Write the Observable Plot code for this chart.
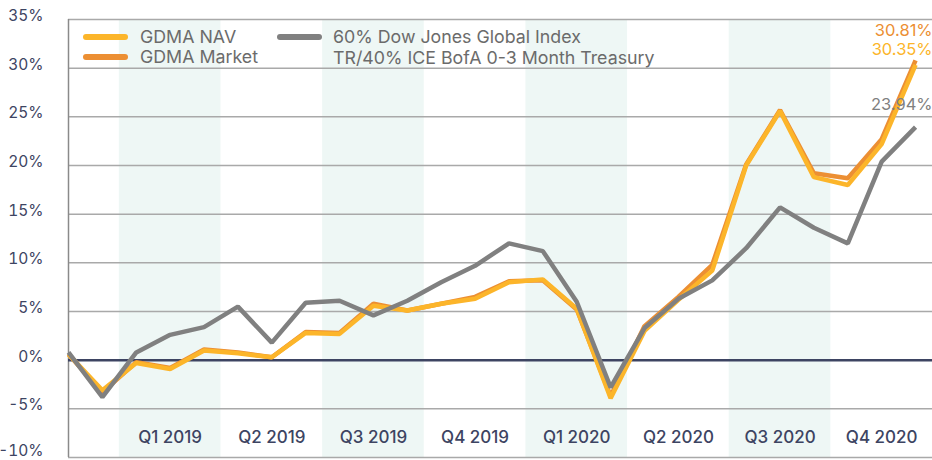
<!DOCTYPE html>
<html><head><meta charset="utf-8">
<script src="https://cdn.jsdelivr.net/npm/d3@7"></script>
<script src="https://cdn.jsdelivr.net/npm/@observablehq/plot@0.6"></script>
<style>
body{margin:0;background:#fff;}
#wrap{position:relative;width:932px;height:460px;font-family:Inter,"Noto Sans",sans-serif;}
#legend{position:absolute;left:0;top:0;width:932px;height:80px;pointer-events:none;color:#6b6b6b;font-size:17.8px;}
.item{position:absolute;line-height:20px;white-space:nowrap;}
.sw{position:absolute;width:45px;height:6px;border-radius:3px;}
</style></head><body><div id="wrap"><div id="legend"></div></div>
<script>
// Month index 0 = Nov 2018 ... 25 = Dec 2020 (cumulative return, %)
const months = ["Nov 2018","Dec 2018","Jan 2019","Feb 2019","Mar 2019","Apr 2019","May 2019","Jun 2019","Jul 2019","Aug 2019","Sep 2019","Oct 2019","Nov 2019","Dec 2019","Jan 2020","Feb 2020","Mar 2020","Apr 2020","May 2020","Jun 2020","Jul 2020","Aug 2020","Sep 2020","Oct 2020","Nov 2020","Dec 2020"];
const navValues = [0.6,-3.1,-0.3,-0.9,1.0,0.7,0.3,2.8,2.7,5.6,5.1,5.8,6.3,8.0,8.3,5.3,-3.9,3.0,6.2,9.2,20.0,25.6,18.8,18.0,22.2,30.35];
const marketValues = [0.6,-3.3,-0.2,-0.8,1.1,0.8,0.3,2.9,2.8,5.8,5.1,5.8,6.5,8.1,8.2,5.2,-3.7,3.5,6.5,9.8,20.1,25.7,19.2,18.7,22.7,30.81];
const benchValues = [0.8,-3.8,0.8,2.6,3.4,5.5,1.8,5.9,6.1,4.6,6.1,8.0,9.7,12.0,11.2,6.0,-2.8,3.3,6.3,8.2,11.5,15.7,13.6,12.0,20.4,23.94];
const quarterLabels = ["Q1 2019","Q2 2019","Q3 2019","Q4 2019","Q1 2020","Q2 2020","Q3 2020","Q4 2020"];
const quarterStartIndex = [2,5,8,11,14,17,20,23];
const quarterShaded = [true,false,true,false,true,false,true,false];
const yTicks = [-10,-5,0,5,10,15,20,25,30,35];
const seriesNames = ["GDMA NAV","GDMA Market","60% Dow Jones Global Index TR/40% ICE BofA 0-3 Month Treasury"];
const seriesColors = ["#fcb52a","#ec8f33","#808080"];

const rows = [];
months.forEach((m,i)=>{
  rows.push({i, month:m, series:seriesNames[1], value:marketValues[i]});
  rows.push({i, month:m, series:seriesNames[0], value:navValues[i]});
  rows.push({i, month:m, series:seriesNames[2], value:benchValues[i]});
});
const quarters = quarterLabels.map((q,k)=>({label:q, start:quarterStartIndex[k]-0.5, end:quarterStartIndex[k]+2.5, mid:quarterStartIndex[k]+1, shaded:quarterShaded[k]}));
const last = months.length-1;
const endLabel = (vals, color, dy) => Plot.text([{i:last, value:vals[last], text:vals[last].toFixed(2)+"%"}],
  {x:"i", y:"value", text:"text", fill:color, dy, dx:17, textAnchor:"end", fontSize:16.5});
const fmt = d => (d<0?"-":"")+Math.abs(d)+"%";
const yAxis = (ticks, dy) => Plot.axisY({ticks, tickFormat:fmt, tickSize:0, tickPadding:25, label:null, dy, fill:"#3d4462", fontSize:15.5});

const chart = Plot.plot({
  width:932, height:460,
  marginLeft:68, marginRight:0, marginTop:19, marginBottom:3,
  style:{fontFamily:"Inter, 'Noto Sans', sans-serif", background:"#fff"},
  x:{domain:[0,25.5], axis:null},
  y:{domain:[-10,35], axis:null},
  color:{domain:seriesNames, range:seriesColors},
  marks:[
    Plot.rect(quarters.filter(d=>d.shaded), {x1:"start", x2:"end", fill:"#eef7f5"}),
    Plot.ruleY(yTicks.filter(d=>d!==0), {stroke:"#a9a9a9", strokeWidth:1.5}),
    Plot.ruleX([0], {stroke:"#8a8a8a", strokeWidth:1.5}),
    Plot.ruleY([0], {stroke:"#3d4462", strokeWidth:2.5}),
    yAxis(yTicks.filter(d=>d>-10), -3.5),
    yAxis(yTicks.filter(d=>d===-10), -6),
    Plot.line(rows, {x:"i", y:"value", z:"series", stroke:"series", strokeWidth:4.5, strokeLinejoin:"miter", strokeLinecap:"butt"}),
    Plot.text(quarters, {x:"mid", text:"label", frameAnchor:"bottom", dy:-15, fill:"#3d4462", fontSize:17, fontWeight:500}),
    endLabel(marketValues, seriesColors[1], -30),
    endLabel(navValues, seriesColors[0], -15.5),
    endLabel(benchValues, seriesColors[2], -22)
  ]
});
document.getElementById("wrap").prepend(chart);
chart.style.display="block";

// Legend
const lg = document.getElementById("legend");
const items = [
  {sw:seriesColors[0], x:83, y:34, tx:140, ty:27, text:seriesNames[0]},
  {sw:seriesColors[1], x:83, y:54, tx:140, ty:47, text:seriesNames[1]},
  {sw:seriesColors[2], x:277, y:34, tx:333, ty:27, text:"60% Dow Jones Global Index"},
  {sw:null, tx:333, ty:48, text:"TR/40% ICE BofA 0-3 Month Treasury"}
];
items.forEach(it=>{
  if(it.sw){const s=document.createElement("div");s.className="sw";s.style.left=it.x+"px";s.style.top=it.y+"px";s.style.background=it.sw;lg.appendChild(s);}
  const t=document.createElement("div");t.className="item";t.style.left=it.tx+"px";t.style.top=it.ty+"px";t.textContent=it.text;lg.appendChild(t);
});
</script>
</body></html>
